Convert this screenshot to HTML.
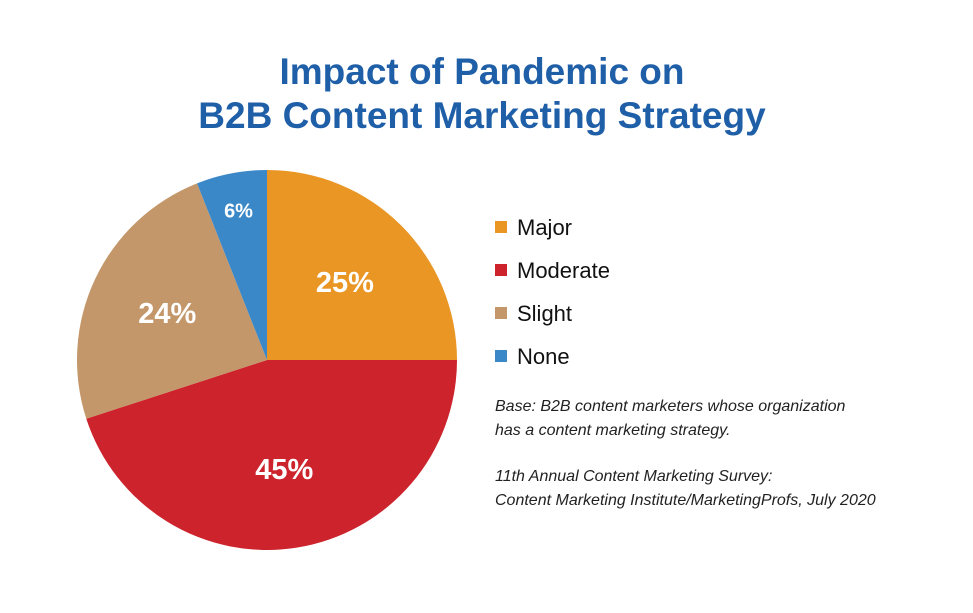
<!DOCTYPE html>
<html><head><meta charset="utf-8"><style>
body{margin:0;background:#fff;width:973px;height:608px;overflow:hidden;font-family:"Liberation Sans",sans-serif}
</style></head><body>
<svg width="973" height="608">
<text x="482" y="84" text-anchor="middle" font-size="37" font-weight="bold" fill="#1F5FA8">Impact of Pandemic on</text>
<text x="482" y="128" text-anchor="middle" font-size="37" font-weight="bold" fill="#1F5FA8">B2B Content Marketing Strategy</text>
<g id="pie"></g>
<g id="legend"></g>
<g font-size="16" font-style="italic" fill="#222">
<text x="495" y="411">Base: B2B content marketers whose organization</text>
<text x="495" y="435">has a content marketing strategy.</text>
<text x="495" y="481">11th Annual Content Marketing Survey:</text>
<text x="495" y="505">Content Marketing Institute/MarketingProfs, July 2020</text>
</g>
</svg>
<script>
const categories=["Major","Moderate","Slight","None"];
const values=[25,45,24,6];
const colors=["#E99624","#CC232C","#C4976A","#3B88C8"];
const NS="http://www.w3.org/2000/svg";
const cx=267,cy=360,R=190;
const pie=document.getElementById('pie');
const total=values.reduce((a,b)=>a+b,0);
let acc=0;
function pt(f,r){const a=f*2*Math.PI;return [cx+r*Math.sin(a),cy-r*Math.cos(a)];}
values.forEach((v,i)=>{
  const f0=acc/total,f1=(acc+v)/total;acc+=v;
  const [x0,y0]=pt(f0,R),[x1,y1]=pt(f1,R);
  const p=document.createElementNS(NS,'path');
  p.setAttribute('d',`M${cx},${cy}L${x0},${y0}A${R},${R} 0 ${f1-f0>0.5?1:0} 1 ${x1},${y1}Z`);
  p.setAttribute('fill',colors[i]);
  
  
  pie.appendChild(p);
  const small=v/total<0.1;
  const [lx,ly]=pt((f0+f1)/2,small?R*0.8:R*0.58);
  const t=document.createElementNS(NS,'text');
  t.setAttribute('x',lx);t.setAttribute('y',ly+(small?7:10));
  t.setAttribute('text-anchor','middle');t.setAttribute('fill','#fff');
  t.setAttribute('font-weight','bold');t.setAttribute('font-size',small?20:29);
  t.textContent=v+'%';
  
  
  pie.appendChild(t);
});
const lg=document.getElementById('legend');
categories.forEach((c,i)=>{
  const y=227+i*43;
  const r=document.createElementNS(NS,'rect');
  r.setAttribute('x',495);r.setAttribute('y',y-6);r.setAttribute('width',12);r.setAttribute('height',12);
  r.setAttribute('fill',colors[i]);
  
  
  lg.appendChild(r);
  const t=document.createElementNS(NS,'text');
  t.setAttribute('x',517);t.setAttribute('y',y+8);t.setAttribute('font-size',22);t.setAttribute('fill','#111');
  t.textContent=c;
  
  
  lg.appendChild(t);
});
</script>
</body></html>
